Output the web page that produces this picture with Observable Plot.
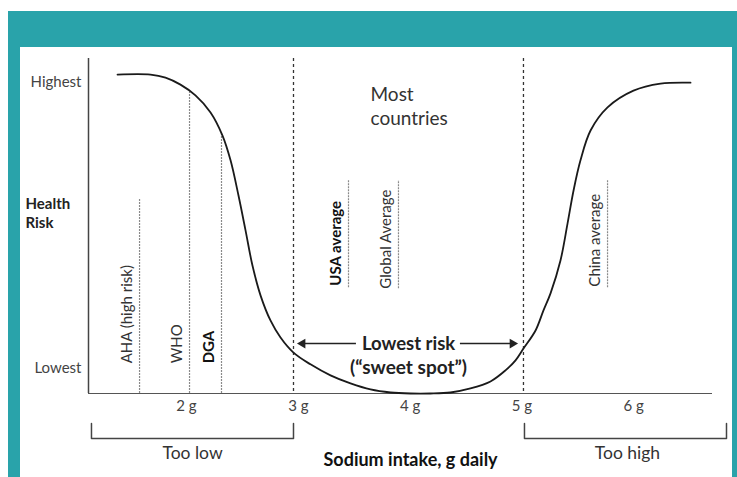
<!DOCTYPE html>
<html>
<head>
<meta charset="utf-8">
<script src="https://cdn.jsdelivr.net/npm/d3@7"></script>
<script src="https://cdn.jsdelivr.net/npm/@observablehq/plot@0.6"></script>
<style>
  html, body { margin: 0; padding: 0; background: #fff; }
  #wrap { position: relative; width: 737px; height: 477px; overflow: hidden; font-family: Lato, sans-serif; }
  #teal { position: absolute; left: 8px; top: 11px; width: 729px; height: 466px; background: #29a3aa; }
  #inner { position: absolute; left: 20px; top: 47px; width: 712px; height: 430px; background: #fff; }
  #chart { position: absolute; left: 0; top: 0; }
</style>
</head>
<body>
<div id="wrap"><div id="teal"></div><div id="inner"></div><div id="chart"></div></div>
<script>
// ---- data ----
const xTicks = [2, 3, 4, 5, 6];
const yTicks = [93, 7.5];
const yTickLabels = ["Highest", "Lowest"];

const curveX = [1.383, 1.678, 1.812, 1.946, 2.080, 2.215, 2.322, 2.394, 2.465, 2.528, 2.590, 2.662, 2.751, 2.841, 2.957, 3.109, 3.288, 3.467, 3.646, 3.825, 4.004, 4.182, 4.361, 4.540, 4.719, 4.853, 4.943, 5.014, 5.122, 5.193, 5.256, 5.345, 5.408, 5.462, 5.524, 5.614, 5.766, 5.998, 6.240, 6.508];
const curveY = [95.2, 95.2, 94.3, 92.2, 89.0, 83.9, 77.0, 69.6, 59.1, 48.7, 38.2, 29.3, 21.8, 16.7, 12.2, 8.7, 5.4, 3.0, 1.2, 0.3, 0, 0, 0.3, 1.5, 3.6, 6.9, 9.9, 13.4, 18.8, 24.8, 29.9, 39.7, 50.7, 60.6, 69.6, 78.5, 85.4, 90.4, 92.5, 92.8];

const refNames = ["AHA (high risk)", "WHO", "DGA", "USA average", "Global Average", "China average"];
const refX = [1.58, 2.027, 2.313, 3.449, 3.896, 5.766];
const refTop = [58.2, 89.9, 77.6, 63.6, 63.6, 63.6];
const refBottom = [0, 0, 0, 31.6, 31.3, 31.6];
const refLabelY = [9.0, 9.0, 9.0, 32.2, 31.3, 31.9];
const refBold = [false, false, true, true, false, false];

const zoneBounds = [2.957, 5.014];

const arrowFrom = [3.52, 4.45];
const arrowTo = [3.038, 4.916];
const arrowDir = [-90, 90];
const arrowY = 14.9;

const bracketNames = ["Too low", "Too high"];
const bracketX1 = [1.15, 5.023];
const bracketX2 = [2.957, 6.83];
const bracketLabelX = [2.054, 5.944];
const bracketTop = -8.96;
const bracketBottom = -13.4;

// ---- build tables ----
const curve = curveX.map((x, i) => ({x, y: curveY[i]}));
const refs = refNames.map((name, i) => ({name, x: refX[i], top: refTop[i], bottom: refBottom[i], ly: refLabelY[i], bold: refBold[i]}));
const arrows = arrowFrom.map((x1, i) => ({x1, x2: arrowTo[i], y: arrowY, rot: arrowDir[i]}));
const bracketPts = bracketNames.flatMap((name, i) => [
  {name, x: bracketX1[i], y: bracketTop},
  {name, x: bracketX1[i], y: bracketBottom},
  {name, x: bracketX2[i], y: bracketBottom},
  {name, x: bracketX2[i], y: bracketTop}
]);
const bracketLabels = bracketNames.map((name, i) => ({name, x: bracketLabelX[i], y: -17.9}));

const chart = Plot.plot({
  width: 737,
  height: 477,
  marginLeft: 88,
  marginRight: 25,
  marginTop: 58,
  marginBottom: 84,
  style: {background: "transparent", fontFamily: "Lato, sans-serif", overflow: "visible"},
  x: {domain: [1.1234, 6.7048], label: null},
  y: {domain: [0, 100], label: null},
  marks: [
    Plot.axisX(xTicks, {tickFormat: d => d + " g", tickSize: 0, tickPadding: 7, fontSize: 15, fill: "#444", label: null}),
    Plot.axisY(yTicks, {tickFormat: d => yTickLabels[yTicks.indexOf(d)], tickSize: 0, tickPadding: 7, fontSize: 15, fill: "#444", label: null}),
    Plot.ruleY([0], {stroke: "#555", strokeWidth: 1.2}),
    Plot.ruleX([1.1234], {stroke: "#444", strokeWidth: 1.5}),
    Plot.ruleX(zoneBounds, {stroke: "#333", strokeWidth: 1.3, strokeDasharray: "3,3"}),
    Plot.ruleX(refs, {x: "x", y1: "bottom", y2: "top", stroke: "#8a8a8a", strokeWidth: 1.2, strokeDasharray: "2,1"}),
    Plot.text(refs.filter(d => !d.bold), {x: "x", y: "ly", text: "name", rotate: -90, textAnchor: "start", dx: -12, fontSize: 15, fill: "#333"}),
    Plot.text(refs.filter(d => d.bold), {x: "x", y: "ly", text: "name", rotate: -90, textAnchor: "start", dx: -12, fontSize: 15, fontWeight: "bold", fill: "#111"}),
    Plot.line(curve, {x: "x", y: "y", curve: "catmull-rom", stroke: "#1a1a1a", strokeWidth: 1.8}),
    Plot.ruleY(arrows, {x1: "x1", x2: "x2", y: "y", stroke: "#222", strokeWidth: 1.5}),
    Plot.dot(arrows, {x: "x2", y: "y", symbol: "triangle", r: 3.6, rotate: "rot", fill: "#222", stroke: null}),
    Plot.text(["Lowest risk"], {x: 3.986, y: arrowY, text: d => d, fontSize: 18.5, fontWeight: "bold", fill: "#222"}),
    Plot.text(["(\u201csweet spot\u201d)"], {x: 3.986, y: 7.6, text: d => d, fontSize: 19, fontWeight: "bold", fill: "#222"}),
    Plot.text(["Most\ncountries"], {x: 3.646, y: 86.0, text: d => d, textAnchor: "start", fontSize: 19, lineHeight: 1.27, fill: "#333"}),
    Plot.text(["Health\nRisk"], {frameAnchor: "left", y: 54.2, text: d => d, dx: -63, textAnchor: "start", fontSize: 15, fontWeight: "bold", lineHeight: 1.27, fill: "#222"}),
    Plot.line(bracketPts, {x: "x", y: "y", z: "name", stroke: "#444", strokeWidth: 1.5}),
    Plot.text(bracketLabels, {x: "x", y: "y", text: "name", fontSize: 17.5, fill: "#333"}),
    Plot.text(["Sodium intake, g daily"], {x: 4.004, y: -20.0, text: d => d, fontSize: 18, fontWeight: "bold", fill: "#111"})
  ]
});
document.getElementById("chart").appendChild(chart);
</script>
</body>
</html>
